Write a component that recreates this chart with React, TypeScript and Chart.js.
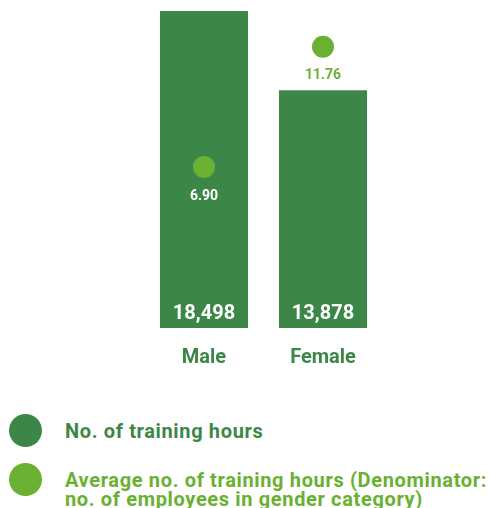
import React, { useEffect, useRef } from "react";
import { Chart, registerables } from "chart.js";

Chart.register(...registerables);

const categories = ["Male", "Female"];
const trainingHours = [18498, 13878];
const avgHours = [6.9, 11.76];
const legendLabels = [
  "No. of training hours",
  "Average no. of training hours (Denominator:\nno. of employees in gender category)",
];

const DARK = "#3c8748";
const LIGHT = "#6ab032";
const FONT = "Roboto, 'DejaVu Sans', sans-serif";

const labelPlugin = {
  id: "valueLabels",
  afterDatasetsDraw(chart: any) {
    const ctx = chart.ctx;
    ctx.save();
    ctx.textAlign = "center";
    ctx.textBaseline = "middle";
    const barMeta = chart.getDatasetMeta(1);
    barMeta.data.forEach((bar: any, i: number) => {
      ctx.font = `bold 20px ${FONT}`;
      ctx.fillStyle = "#ffffff";
      ctx.fillText(trainingHours[i].toLocaleString("en-US"), bar.x, bar.base - 14);
    });
    const ptMeta = chart.getDatasetMeta(0);
    ptMeta.data.forEach((pt: any, i: number) => {
      ctx.font = `bold 14px ${FONT}`;
      ctx.fillStyle = i === 0 ? "#ffffff" : LIGHT;
      ctx.fillText(avgHours[i].toFixed(2), pt.x, pt.y + 29);
    });
    ctx.restore();
  },
};

export default function App() {
  const ref = useRef<HTMLCanvasElement>(null);
  useEffect(() => {
    document.body.style.margin = "0";
    const chart = new Chart(ref.current!, {
      type: "bar",
      data: {
        labels: categories,
        datasets: [
          {
            type: "line",
            label: legendLabels[1],
            data: avgHours,
            yAxisID: "y1",
            showLine: false,
            pointRadius: 11,
            pointHoverRadius: 11,
            pointBackgroundColor: LIGHT,
            pointBorderWidth: 0,
            borderColor: LIGHT,
            backgroundColor: LIGHT,
          } as any,
          {
            type: "bar",
            label: legendLabels[0],
            data: trainingHours,
            yAxisID: "y",
            backgroundColor: DARK,
            categoryPercentage: 1,
            barPercentage: 0.74,
          },
        ],
      },
      options: {
        animation: false,
        responsive: false,
        maintainAspectRatio: false,
        layout: { padding: { left: 144.5, right: 110.5, top: 11, bottom: 0 } },
        plugins: {
          legend: { display: false },
          tooltip: { enabled: false },
        },
        scales: {
          x: {
            grid: { display: false, drawTicks: false },
            border: { display: false },
            ticks: {
              color: DARK,
              font: { family: FONT, size: 20, weight: "bold" },
              padding: 18,
            },
          },
          y: { display: false, min: 0, max: 18498 },
          y1: { display: false, min: 0.4, max: 13.2 },
        },
      },
      plugins: [labelPlugin],
    });
    return () => chart.destroy();
  }, []);

  const legendRow = (color: string, text: string, top: number, textColor: string) => (
    <div style={{ position: "absolute", left: 0, top, width: 493 }}>
      <div
        style={{
          position: "absolute",
          left: 9,
          top: 0,
          width: 33,
          height: 33,
          borderRadius: "50%",
          background: color,
        }}
      />
      <div
        style={{
          position: "absolute",
          left: 65,
          top: 8,
          fontFamily: FONT,
          fontWeight: "bold",
          fontSize: 20,
          letterSpacing: "0.65px",
          lineHeight: "19px",
          color: textColor,
          whiteSpace: "pre",
        }}
      >
        {text}
      </div>
    </div>
  );

  return (
    <div style={{ position: "relative", width: 493, height: 508, background: "#fff", overflow: "hidden" }}>
      <canvas ref={ref} width={493} height={388} style={{ display: "block" }} />
      {legendRow(DARK, legendLabels[0], 414, DARK)}
      {legendRow(LIGHT, legendLabels[1], 463, LIGHT)}
    </div>
  );
}
